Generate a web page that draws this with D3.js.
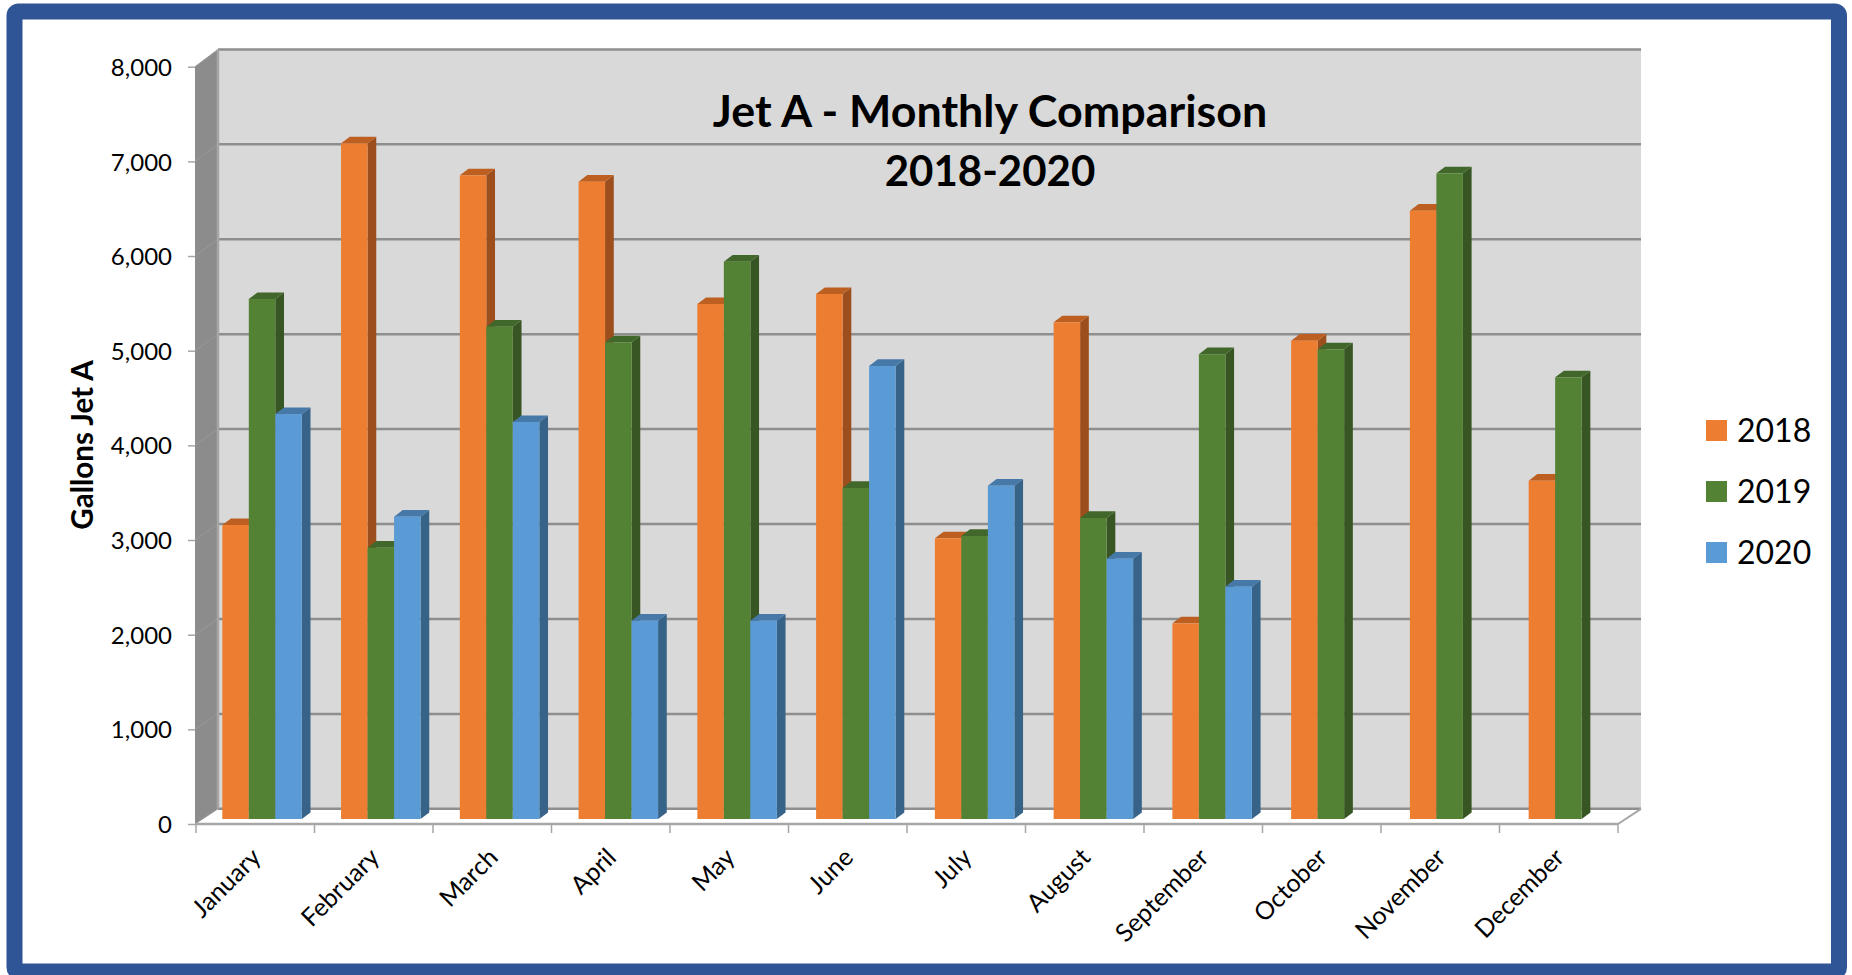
<!DOCTYPE html>
<html>
<head>
<meta charset="utf-8">
<script src="https://cdn.jsdelivr.net/npm/d3@7"></script>
<style>
  html, body { margin: 0; padding: 0; background: #fff; overflow: hidden; }
  text { font-family: Lato, "Open Sans", sans-serif; fill: #000; }
</style>
</head>
<body>
<div id="chart"></div>
<script>
const months = ["January", "February", "March", "April", "May", "June", "July", "August", "September", "October", "November", "December"];
const years = ["2018", "2019", "2020"];
const values2018 = [3106, 7138, 6800, 6733, 5440, 5546, 2965, 5247, 2067, 5053, 6426, 3574];
const values2019 = [5493, 2866, 5201, 5036, 5888, 3497, 2990, 3180, 4910, 4962, 6821, 4666];
const values2020 = [4278, 3194, 4194, 2095, 2095, 4786, 3521, 2750, 2454, null, null, null];
const yTicks = [0, 1000, 2000, 3000, 4000, 5000, 6000, 7000, 8000];
const titleLines = ["Jet A - Monthly Comparison", "2018-2020"];

const colors = { "2018": "#ed7d31", "2019": "#548235", "2020": "#5b9bd5" };
const sideColors = { "2018": "#9c4f1c", "2019": "#375623", "2020": "#376389" };
const capColors = { "2018": "#be5f22", "2019": "#42672a", "2020": "#4679a8" };
const series = [values2018, values2019, values2020];

const W = 1852, H = 975;
const wallDx = 23;                   // back wall offset from the front plane
const barDx = 8.7, barDy = -6.6;     // bar depth
const barInset = -5;                 // bars sit a little behind the front axis

const svg = d3.select("#chart").append("svg").attr("width", W).attr("height", H);

// Blue frame
svg.append("rect")
  .attr("x", 14.5).attr("y", 11.5)
  .attr("width", 1824.5).attr("height", 960)
  .attr("rx", 4)
  .attr("fill", "#fff")
  .attr("stroke", "#2f5597")
  .attr("stroke-width", 16);

const x = d3.scaleBand().domain(months).range([196, 1618]);
// bars are on a plane slightly behind the axis, so their step is a little wider
const xBars = d3.scaleBand().domain(months).range([222.3, 222.3 + 12 * 118.76]);
const y = d3.scaleLinear().domain([0, 8000]).range([824, 66.7]);
// back wall has its own scale because of the perspective
const yBack = d3.scaleLinear().domain([0, 8000]).range([808.8, 49.4]);

const x0 = x.range()[0] - 1, x1 = x.range()[1];
const y0 = y(0), yTop = y(8000);
const poly = pts => pts.map(p => p.join(",")).join(" ");

// Walls
svg.append("polygon")
  .attr("points", poly([[x0, y0], [x0 + wallDx, yBack(0)], [x0 + wallDx, yBack(8000)], [x0, yTop]]))
  .attr("fill", "#8c8c8c");
svg.append("rect")
  .attr("x", x0 + wallDx).attr("y", yBack(8000))
  .attr("width", x1 - x0).attr("height", yBack(0) - yBack(8000))
  .attr("fill", "#d9d9d9");

// Gridlines on the back and side wall
svg.append("g").selectAll("line.grid").data(yTicks).enter().append("line")
  .attr("class", "grid")
  .attr("x1", x0 + wallDx).attr("x2", x1 + wallDx)
  .attr("y1", d => yBack(d)).attr("y2", d => yBack(d))
  .attr("stroke", "#8e8e8e").attr("stroke-width", 2.5);
svg.append("g").selectAll("line.side").data(yTicks).enter().append("line")
  .attr("class", "side")
  .attr("x1", x0).attr("x2", x0 + wallDx)
  .attr("y1", d => y(d)).attr("y2", d => yBack(d))
  .attr("stroke", "#999").attr("stroke-width", 1);
svg.append("line")
  .attr("x1", x0 + wallDx).attr("x2", x0 + wallDx)
  .attr("y1", yBack(8000)).attr("y2", yBack(0))
  .attr("stroke", "#a6a6a6").attr("stroke-width", 2.5);
// floor edge on the right
svg.append("line")
  .attr("x1", x1).attr("x2", x1 + wallDx)
  .attr("y1", y0).attr("y2", yBack(0))
  .attr("stroke", "#a6a6a6").attr("stroke-width", 2);

// Axes
const yAxis = d3.axisLeft(y).tickValues(yTicks).tickSize(7).tickPadding(16).tickFormat(d3.format(","));
const yG = svg.append("g").attr("transform", `translate(${x0},0)`).call(yAxis);
yG.select(".domain").remove();
yG.selectAll("line").attr("stroke", "#a6a6a6").attr("stroke-width", 1.5);
yG.selectAll("text").style("font-size", "24px").attr("dy", "0.36em");

svg.append("line")
  .attr("x1", x0).attr("x2", x1).attr("y1", y0).attr("y2", y0)
  .attr("stroke", "#a6a6a6").attr("stroke-width", 2.5);
svg.append("g").selectAll("line.xtick").data(months.concat(["end"])).enter().append("line")
  .attr("class", "xtick")
  .attr("x1", (d, i) => x.range()[0] + i * x.step())
  .attr("x2", (d, i) => x.range()[0] + i * x.step())
  .attr("y1", y0).attr("y2", y0 + 9)
  .attr("stroke", "#a6a6a6").attr("stroke-width", 1.5);

svg.append("g").selectAll("text").data(months).enter().append("text")
  .attr("text-anchor", "end")
  .attr("transform", d => `translate(${x(d) + x.bandwidth() / 2 + 7},${y0 + 35}) rotate(-45)`)
  .style("font-size", "25px")
  .text(d => d);

// Bars, one group per month
const barW = 26.5;
months.forEach((m, mi) => {
  const left = xBars(m);
  series.forEach((vals, si) => {
    const v = vals[mi];
    if (v == null) return;
    const yr = years[si];
    const bx = left + si * barW;
    const top = y(v) + barInset, bot = y0 + barInset;
    const g = svg.append("g");
    g.append("polygon")
      .attr("points", poly([[bx + barW, top], [bx + barW + barDx, top + barDy], [bx + barW + barDx, bot + barDy], [bx + barW, bot]]))
      .attr("fill", sideColors[yr]);
    g.append("polygon")
      .attr("points", poly([[bx, top], [bx + barDx, top + barDy], [bx + barW + barDx, top + barDy], [bx + barW, top]]))
      .attr("fill", capColors[yr]);
    g.append("rect")
      .attr("x", bx).attr("y", top)
      .attr("width", barW).attr("height", bot - top)
      .attr("fill", colors[yr]);
  });
});

// Title
svg.append("g").selectAll("text").data(titleLines).enter().append("text")
  .attr("x", 990)
  .attr("y", (d, i) => 127 + i * 59)
  .attr("text-anchor", "middle")
  .style("font-size", (d, i) => i === 0 ? "44.8px" : "42px").style("font-weight", "700")
  .text(d => d);

// Y axis title
svg.append("text")
  .attr("transform", "translate(93,445) rotate(-90)")
  .attr("text-anchor", "middle")
  .style("font-size", "29.5px").style("font-weight", "700")
  .text("Gallons Jet A");

// Legend
const legend = svg.append("g").selectAll("g").data(years).enter().append("g")
  .attr("transform", (d, i) => `translate(1706,${420 + i * 61})`);
legend.append("rect").attr("width", 21).attr("height", 21).attr("fill", d => colors[d]);
legend.append("text")
  .attr("x", 31).attr("y", 22)
  .style("font-size", "32px")
  .text(d => d);
</script>
</body>
</html>
